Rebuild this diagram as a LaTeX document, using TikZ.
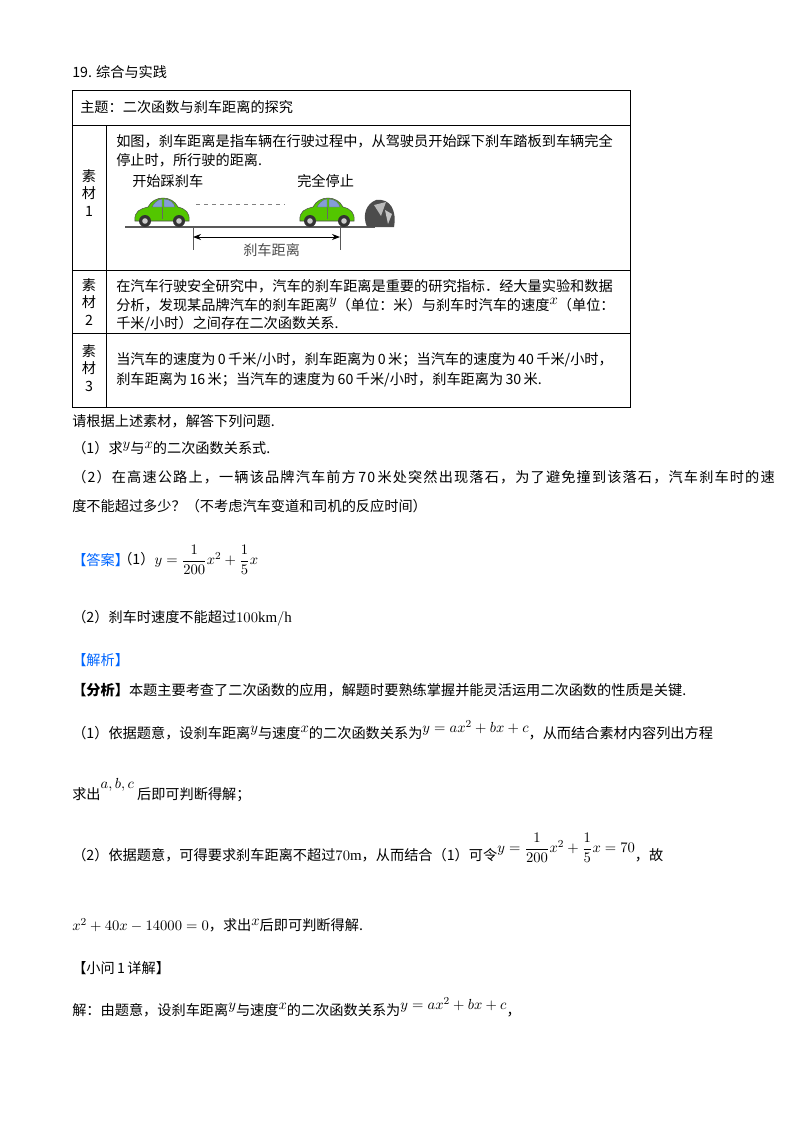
\documentclass[tikz,border=0pt]{standalone}
\usepackage{fontspec}
\usepackage{amsmath}
\setmainfont{Liberation Serif}
\newfontfamily\cjk{Noto Sans CJK SC}[Scale=0.95]
\usetikzlibrary{arrows.meta}
\newcommand{\upm}[1]{\raisebox{4pt}{$#1$}}
\begin{document}
\begin{tikzpicture}[x=0.75pt,y=-0.75pt,
  t/.style={anchor=west,inner sep=0pt,font=\cjk\fontsize{11.2}{13.4}\selectfont},
  wide/.style={t,font=\cjk\fontsize{11.2}{13.4}\selectfont\addfontfeatures{LetterSpace=8}},
  blue/.style={t,text=blue!60!cyan},
  car/.pic={
    \fill[green!50!olive!90!yellow,draw=black!70,line width=0.4pt] (-27,8) .. controls (-28,-2) and (-22,-4) .. (-14,-6) .. controls (-8,-18) and (10,-18) .. (16,-6) .. controls (24,-4) and (28,0) .. (27,8) -- cycle;
    \fill[cyan!40!blue!50,draw=black!60,line width=0.3pt] (-10,-6) .. controls (-6,-14) and (0,-14) .. (0,-14) -- (0,-6) -- cycle;
    \fill[cyan!40!blue!50,draw=black!60,line width=0.3pt] (2,-14) .. controls (8,-14) and (12,-10) .. (13,-6) -- (2,-6) -- cycle;
    \draw[black!60,line width=0.3pt] (0,-6) -- (0,6);
    \foreach \w in {-17,17}{\fill[black!80] (\w,8) circle (6); \fill[gray!40] (\w,8) circle (2.8);}
  }]
\useasboundingbox (0,0) rectangle (800,1132);
\fill[white] (0,0) rectangle (800,1132);
\node[t] (title) at (72,72) {19. 综合与实践};
% table
\draw[line width=0.6pt] (72,90) rectangle (630,407);
\draw[line width=0.6pt] (72,125) -- (630,125) (72,270) -- (630,270) (72,333) -- (630,333);
\draw[line width=0.6pt] (106,125) -- (106,407);
\node[t] (topic) at (80,107) {主题：二次函数与刹车距离的探究};
\node[t] at (116,141) {如图，刹车距离是指车辆在行驶过程中，从驾驶员开始踩下刹车踏板到车辆完全};
\node[t] at (116,160) {停止时，所行驶的距离.};
\node[t,align=center,anchor=center] (m1) at (89,193) {素\\材\\1};
\node[t] (start) at (132,181) {开始踩刹车};
\node[t] (stop) at (297,181) {完全停止};
\draw[line width=0.8pt,gray!70!black] (125,227) -- (375,227);
\pic at (162,213) {car};
\pic at (327,213) {car};
\fill[black!70] (367,227) .. controls (362,215) and (366,204) .. (376,200) .. controls (390,198) and (397,210) .. (394,227) -- cycle;
\fill[gray!55] (374,205) -- (386,202) -- (381,216) -- cycle;
\fill[gray!45] (385,210) -- (392,214) -- (388,224) -- cycle;
\draw[dashed,gray] (196,204) -- (285,204);
\coordinate (a1) at (193,237); \coordinate (a2) at (340,237);
\draw[gray!70!black] (193,227) -- (193,250) (340,227) -- (340,250);
\draw[{Stealth[length=6pt]}-{Stealth[length=6pt]},line width=0.6pt] (a1) -- (a2);
\node[t,text=black!70] (dist) at (243,250) {刹车距离};
\node[t,align=center,anchor=center] (m2) at (89,302) {素\\材\\2};
\node[t] at (116,286) {在汽车行驶安全研究中，汽车的刹车距离是重要的研究指标．经大量实验和数据};
\node[t] at (116,305) {分析，发现某品牌汽车的刹车距离\upm{y}（单位：米）与刹车时汽车的速度\upm{x}（单位：};
\node[t] at (116,324) {千米/小时）之间存在二次函数关系.};
\node[t,align=center,anchor=center] (m3) at (89,368) {素\\材\\3};
\node[t] at (116,360) {当汽车的速度为\,0\,千米/小时，刹车距离为\,0\,米；当汽车的速度为\,40\,千米/小时，};
\node[t] at (116,380) {刹车距离为\,16\,米；当汽车的速度为\,60\,千米/小时，刹车距离为\,30\,米.};
\node[t] at (72,421) {请根据上述素材，解答下列问题.};
\node[t] at (72,448) {（1）求\upm{y}与\upm{x}的二次函数关系式.};
\node[wide] at (72,477) {（2）在高速公路上，一辆该品牌汽车前方\,70\,米处突然出现落石，为了避免撞到该落石，汽车刹车时的速};
\node[t] at (72,506) {度不能超过多少？（不考虑汽车变道和司机的反应时间）};
\node[blue] at (72,560) {【答案】};
\node[t] at (118,560) {（1）$y=\dfrac{1}{200}x^2+\dfrac{1}{5}x$};
\node[t] at (72,618) {（2）刹车时速度不能超过$100\mathrm{km}/\mathrm{h}$};
\node[blue] at (72,660) {【解析】};
\node[t] at (72,690) {\textbf{【分析】}本题主要考查了二次函数的应用，解题时要熟练掌握并能灵活运用二次函数的性质是关键.};
\node[t] at (72,730) {（1）依据题意，设刹车距离\upm{y}与速度\upm{x}的二次函数关系为\upm{y=ax^2+bx+c}，从而结合素材内容列出方程};
\node[t] at (72,790) {求出\raisebox{8pt}{$a,b,c$}\ 后即可判断得解；};
\node[t] at (72,848) {（2）依据题意，可得要求刹车距离不超过$70\mathrm{m}$，从而结合（1）可令\raisebox{6pt}{$y=\dfrac{1}{200}x^2+\dfrac15x=70$}，故};
\node[t] at (72,925) {$x^2+40x-14000=0$，求出\upm{x}后即可判断得解.};
\node[t] at (72,968) {【小问\,1\,详解】};
\node[t] at (72,1007) {解：由题意，设刹车距离\upm{y}与速度\upm{x}的二次函数关系为\upm{y=ax^2+bx+c}，};
\end{tikzpicture}
\end{document}
